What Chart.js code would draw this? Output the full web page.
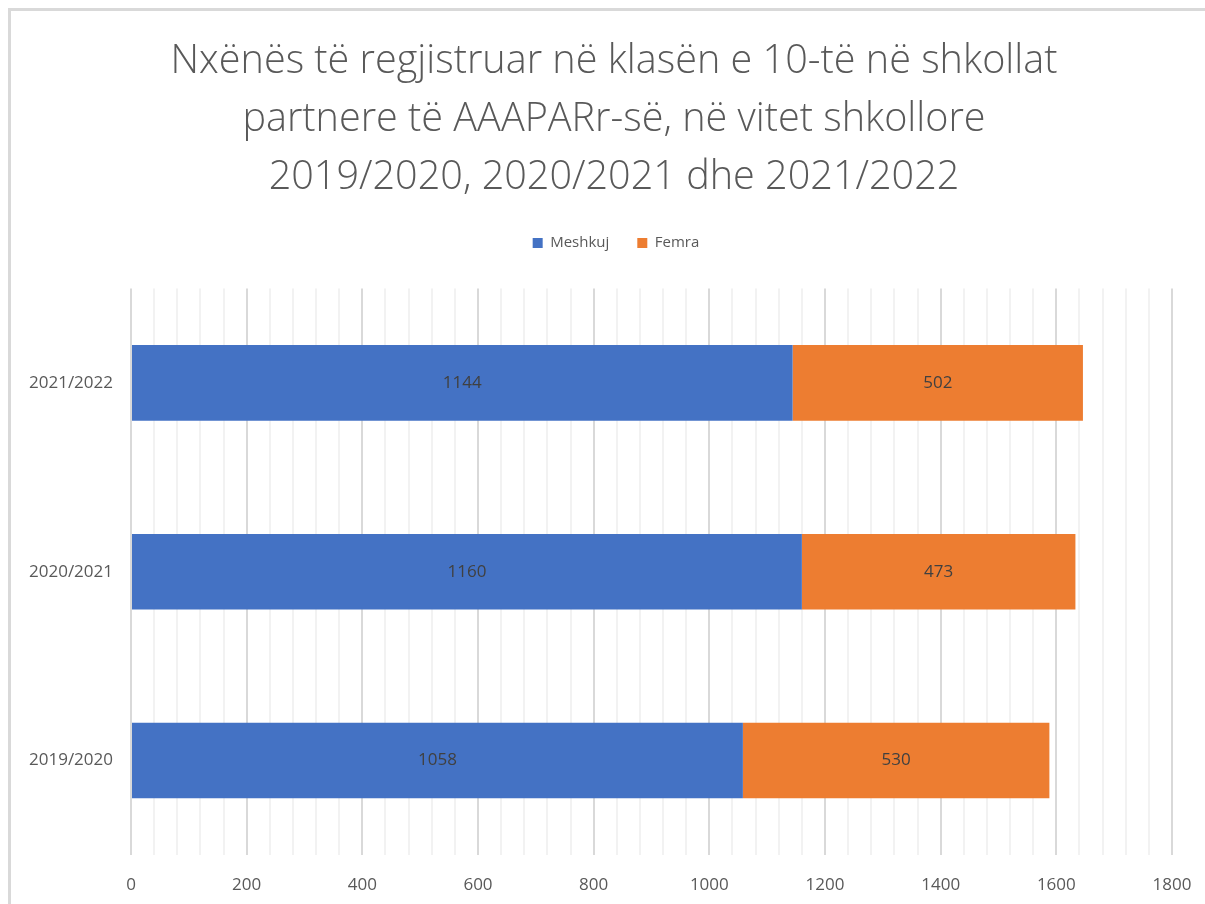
<!DOCTYPE html>
<html>
<head>
<meta charset="utf-8">
<script src="https://cdn.jsdelivr.net/npm/chart.js@4"></script>
<style>
  body { margin: 0; background: #fff; }
  #frame {
    position: absolute; left: 8px; top: 8px; width: 1300px; height: 1000px;
    border-left: 3px solid #d9d9d9; border-top: 3px solid #d9d9d9;
  }
  #wrap { position: absolute; left: 0; top: 0; width: 1205px; height: 904px; }
</style>
</head>
<body>
<div id="frame"></div>
<div id="wrap"><canvas id="regChart"></canvas></div>
<script>
var years = ["2021/2022", "2020/2021", "2019/2020"];
var meshkuj = [1144, 1160, 1058];
var femra = [502, 473, 530];
var titleLines = [
    "Nxënës të regjistruar në klasën e 10-të në shkollat",
    "partnere të AAAPARr-së, në vitet shkollore",
    "2019/2020, 2020/2021 dhe 2021/2022"
];

var FONT = "'Open Sans', sans-serif";

// writes each segment's value in the middle of its bar
var barValues = {
    id: 'barValues',
    afterDatasetsDraw: function(chart) {
        var ctx = chart.ctx;
        ctx.save();
        ctx.font = "17px " + FONT;
        ctx.fillStyle = "#404040";
        ctx.textAlign = "center";
        ctx.textBaseline = "middle";
        chart.data.datasets.forEach(function(ds, i) {
            chart.getDatasetMeta(i).data.forEach(function(bar, j) {
                var mid = (bar.x + bar.base) / 2;
                ctx.fillText(ds.data[j], mid, bar.y);
            });
        });
        ctx.restore();
    }
};

// shift a layout box sideways when it is drawn
function nudge(box, dx) {
    var draw = box.draw;
    box.draw = function() {
        var ctx = this.ctx;
        ctx.save();
        ctx.translate(dx, 0);
        draw.apply(this, arguments);
        ctx.restore();
    };
}

// extra space under the legend, and title/legend centred over the plot
var headerTweaks = {
    id: 'headerTweaks',
    beforeInit: function(chart) {
        var fit = chart.legend.fit;
        chart.legend.fit = function() {
            fit.call(this);
            this.height += 28;
        };
        nudge(chart.titleBlock, 5);
        nudge(chart.legend, 7);
    }
};

var reg = document.getElementById('regChart').getContext('2d');
var reg_chart = new Chart(reg, {
    type: 'bar',
    data: {
        labels: years,
        datasets: [
            {
                label: "Meshkuj",
                data: meshkuj,
                backgroundColor: "#4472c4",
                categoryPercentage: 1,
                barPercentage: 0.4
            },
            {
                label: "Femra",
                data: femra,
                backgroundColor: "#ed7d31",
                categoryPercentage: 1,
                barPercentage: 0.4
            }
        ]
    },
    plugins: [barValues, headerTweaks],
    options: {
        indexAxis: 'y',
        responsive: true,
        maintainAspectRatio: false,
        animation: false,
        layout: {
            padding: { left: 20, right: 7, top: 33, bottom: 7 }
        },
        plugins: {
            title: {
                display: true,
                text: titleLines,
                color: "#595959",
                font: { family: FONT, size: 39.6, weight: 300, lineHeight: 1.46 },
                padding: { top: 0, bottom: 1 }
            },
            legend: {
                display: true,
                labels: {
                    color: "#595959",
                    font: { family: FONT, size: 15 },
                    boxWidth: 10,
                    boxHeight: 10,
                    padding: 28
                }
            },
            tooltip: { enabled: false }
        },
        scales: {
            x: {
                stacked: true,
                min: 0,
                max: 1800,
                border: { display: false },
                grid: {
                    drawTicks: false,
                    lineWidth: 2,
                    color: function(c) {
                        return c.tick && c.tick.value % 200 === 0 ? "#d9d9d9" : "#f2f2f2";
                    }
                },
                afterFit: function(scale) {
                    scale.height = 42;
                    scale.paddingRight = 33;
                },
                ticks: {
                    stepSize: 40,
                    autoSkip: false,
                    maxRotation: 0,
                    padding: 20,
                    color: "#595959",
                    font: { family: FONT, size: 17 },
                    callback: function(v) {
                        return v % 200 === 0 ? v : "";
                    }
                }
            },
            y: {
                stacked: true,
                border: { display: false },
                grid: { display: false, drawTicks: false },
                afterFit: function(scale) {
                    scale.width = 111;
                },
                ticks: {
                    padding: 18,
                    color: "#595959",
                    font: { family: FONT, size: 17 }
                }
            }
        }
    }
});
</script>
</body>
</html>
